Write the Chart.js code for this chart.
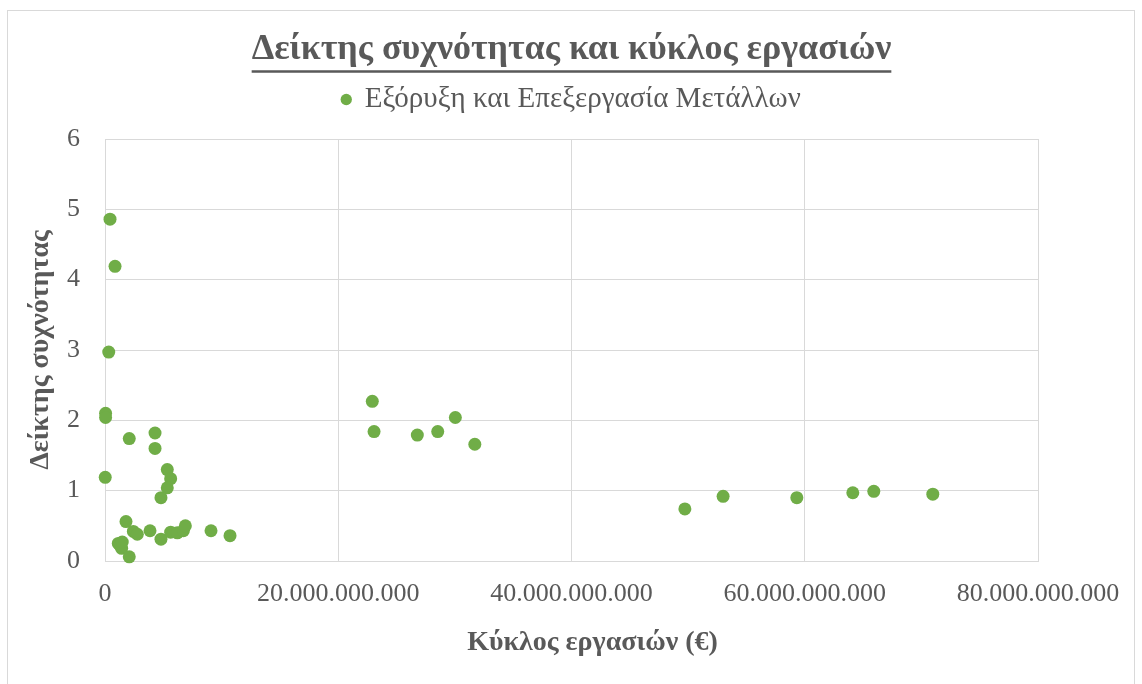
<!DOCTYPE html>
<html>
<head>
<meta charset="utf-8">
<script src="https://cdn.jsdelivr.net/npm/chart.js@4/dist/chart.umd.min.js"></script>
<style>
  body { margin: 0; background: #fff; }
  #wrap { position: relative; width: 1142px; height: 684px; overflow: hidden; }
  #frame { position: absolute; left: 7px; top: 10px; width: 1126px; height: 700px; border: 1px solid #d9d9d9; }
  #chart-box { position: absolute; left: 0; top: 0; width: 1142px; height: 684px; }
</style>
</head>
<body>
<div id="wrap">
  <div id="frame"></div>
  <div id="chart-box"><canvas id="scatter-chart"></canvas></div>
</div>
<script>
var canvasElement = document.getElementById("scatter-chart");
var chartTitle = "Δείκτης συχνότητας και κύκλος εργασιών";
var seriesName = "Εξόρυξη και Επεξεργασία Μετάλλων";
var xTitle = "Κύκλος εργασιών (€)";
var yTitle = "Δείκτης συχνότητας";

// turnover per company (euros)
var kyklosErgasion = [
    430000000, 860000000, 320000000, 50000000, 50000000, 20000000,
    2080000000, 4290000000, 4290000000, 5340000000, 5630000000, 5340000000,
    4800000000, 1800000000, 2430000000, 2770000000, 3860000000, 4800000000,
    5630000000, 6200000000, 6720000000, 6890000000, 9090000000, 10720000000,
    1140000000, 1290000000, 1430000000, 1480000000, 2080000000,
    22920000000, 23070000000, 26780000000, 28530000000, 30040000000, 31710000000,
    49720000000, 53000000000, 59320000000, 64120000000, 65920000000, 70980000000
];
// accident frequency index, same order
var deiktisSyxnotitas = [
    4.86, 4.19, 2.97, 2.10, 2.04, 1.19,
    1.74, 1.82, 1.60, 1.30, 1.17, 1.04,
    0.90, 0.56, 0.42, 0.38, 0.43, 0.31,
    0.41, 0.40, 0.43, 0.50, 0.43, 0.36,
    0.25, 0.22, 0.18, 0.27, 0.06,
    2.27, 1.84, 1.79, 1.84, 2.04, 1.66,
    0.74, 0.92, 0.90, 0.97, 0.99, 0.95
];
var xTicks = [0, 20000000000, 40000000000, 60000000000, 80000000000];
var yTicks = [0, 1, 2, 3, 4, 5, 6];

var points = kyklosErgasion.map(function (v, i) {
    return { x: v, y: deiktisSyxnotitas[i] };
});

function withDots(n) {
    return String(n).replace(/\B(?=(\d{3})+(?!\d))/g, ".");
}

var textColor = "#595959";
var gridColor = "#d9d9d9";
var serif = "'Liberation Serif', 'Times New Roman', serif";
var titleSize = 36;
var axisTitleSize = 28;

// underline under the chart title, plus the x axis title (sits a bit right of centre)
var extraText = {
    id: "extraText",
    afterDraw: function (chart) {
        var ctx = chart.ctx;
        var t = chart.titleBlock;
        ctx.save();
        if (t) {
            ctx.font = "bold " + titleSize + "px " + serif;
            var w = ctx.measureText(chartTitle).width;
            var cx = (t.left + t.right) / 2;
            var cy = t.top + t._padding.top + titleSize * 1.2 / 2;
            ctx.strokeStyle = textColor;
            ctx.lineWidth = 2.5;
            ctx.beginPath();
            ctx.moveTo(cx - w / 2, cy + titleSize * 0.6);
            ctx.lineTo(cx + w / 2, cy + titleSize * 0.6);
            ctx.stroke();
        }
        var area = chart.chartArea;
        ctx.font = "bold " + axisTitleSize + "px " + serif;
        ctx.fillStyle = textColor;
        ctx.textAlign = "center";
        ctx.textBaseline = "middle";
        ctx.fillText(xTitle, (area.left + area.right) / 2 + 21, chart.height - 41.5);
        ctx.restore();
    }
};

var config = {
    type: "scatter",
    data: {
        datasets: [{
            label: seriesName,
            data: points,
            backgroundColor: "#70AD47",
            borderColor: "#70AD47",
            borderWidth: 0,
            pointRadius: 6.5,
            pointHoverRadius: 6.5,
            clip: false
        }]
    },
    options: {
        responsive: true,
        maintainAspectRatio: false,
        animation: false,
        layout: { padding: { top: 0, left: 0, right: 104, bottom: 0 } },
        plugins: {
            title: {
                display: true,
                fullSize: false,
                text: chartTitle,
                color: textColor,
                font: { family: serif, size: titleSize, weight: "bold" },
                padding: { top: 28.25, bottom: 3.55 }
            },
            subtitle: {   // empty spacer between legend and plot
                display: true,
                fullSize: false,
                text: "",
                weight: 500,
                font: { size: 1 },
                padding: { top: 7, bottom: 6.8 }
            },
            legend: {
                display: true,
                fullSize: false,
                position: "top",
                labels: {
                    usePointStyle: true,
                    pointStyle: "circle",
                    boxWidth: 8,
                    boxHeight: 8,
                    color: textColor,
                    font: { family: serif, size: 29 },
                    padding: 10
                }
            },
            tooltip: { enabled: false }
        },
        scales: {
            x: {
                type: "linear",
                min: 0,
                max: 80000000000,
                afterBuildTicks: function (axis) {
                    axis.ticks = xTicks.map(function (v) { return { value: v }; });
                },
                afterFit: function (axis) { axis.height = 123; },
                grid: { color: gridColor, drawTicks: false },
                border: { color: gridColor },
                ticks: {
                    color: textColor,
                    font: { family: serif, size: 26 },
                    padding: 18,
                    maxRotation: 0,
                    callback: function (v) { return withDots(v); }
                },
                title: { display: false }
            },
            y: {
                min: 0,
                max: 6,
                afterBuildTicks: function (axis) {
                    axis.ticks = yTicks.map(function (v) { return { value: v }; });
                },
                afterFit: function (axis) { axis.width = 105; },
                grid: { color: gridColor, drawTicks: false },
                border: { color: gridColor },
                ticks: {
                    color: textColor,
                    font: { family: serif, size: 26 },
                    padding: 25
                },
                title: {
                    display: true,
                    text: yTitle,
                    color: textColor,
                    font: { family: serif, size: axisTitleSize, weight: "bold" },
                    padding: { top: 24, bottom: 0 }
                }
            }
        }
    },
    plugins: [extraText]
};

var scatterChart = new Chart(canvasElement, config);
</script>
</body>
</html>
